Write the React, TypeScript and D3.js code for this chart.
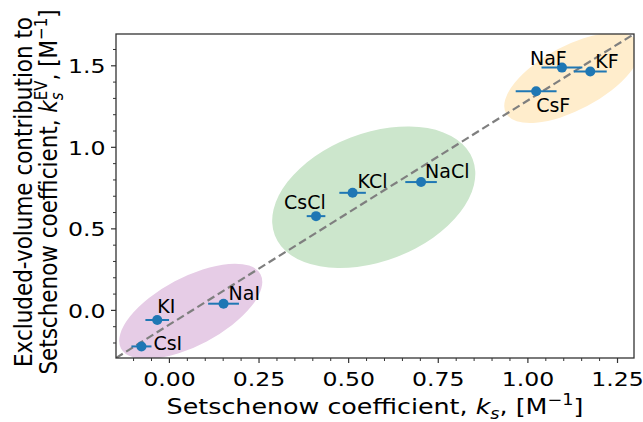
import React from "react";
import * as d3 from "d3";

// ---- data ----
const salts = ["CsI", "KI", "NaI", "CsCl", "KCl", "NaCl", "NaF", "KF", "CsF"];
const ks = [-0.078, -0.034, 0.151, 0.409, 0.511, 0.702, 1.095, 1.174, 1.023];
const ksEV = [-0.221, -0.059, 0.041, 0.578, 0.721, 0.787, 1.489, 1.465, 1.344];
const ksErr = [0.028, 0.033, 0.043, 0.026, 0.037, 0.044, 0.057, 0.046, 0.057];

const groupNames = ["iodides", "chlorides", "fluorides"];
const groupCenterX = [0.0595, 0.57, 1.1235];
const groupCenterY = [-0.006, 0.694, 1.426];

const xTicks = [0, 0.25, 0.5, 0.75, 1.0, 1.25];
const yTicks = [0, 0.5, 1.0, 1.5];
const xDomain = [-0.149, 1.296];
const yDomain = [-0.292, 1.695];

// ---- styles ----
const groupColors = ["#e6cce6", "#cce6cc", "#ffedcc"];
const groupRx = [79, 106, 75];
const groupRy = [34, 64, 32];
const groupAngle = [28, 21, 28];
// label offsets in px relative to point (left x, baseline y)
const labelDx = [12, 0, 5, -32, 5, 4, -32, 5, 0];
const labelDy = [4, -7, -4, -7, -5, -4, -3, -4, 21];

const FONT = "DejaVu Sans, sans-serif";
const BLUE = "#1f77b4";
const SX = 1.18; // horizontal glyph stretch seen in the reference text

export default function App() {
  const L = 116, R = 634, T = 34, B = 358;
  const x = d3.scaleLinear().domain(xDomain).range([L, R]);
  const y = d3.scaleLinear().domain(yDomain).range([B, T]);

  const xMinor = d3.range(-0.15, 1.31, 0.05).map((v) => Math.round(v * 100) / 100)
    .filter((v) => v > xDomain[0] && v < xDomain[1] && !xTicks.some((t) => Math.abs(t - v) < 1e-6));
  const yMinor = d3.range(-0.3, 1.71, 0.1).map((v) => Math.round(v * 10) / 10)
    .filter((v) => v > yDomain[0] && v < yDomain[1] && !yTicks.some((t) => Math.abs(t - v) < 1e-6));

  const fx = d3.format(".2f");
  const fy = d3.format(".1f");

  return (
    <svg width={643} height={422} style={{ position: "absolute", left: 0, top: 0, background: "#fff" }}
      fontFamily={FONT}>
      <defs>
        <clipPath id="plotclip">
          <rect x={L} y={T} width={R - L} height={B - T} />
        </clipPath>
      </defs>
      <g clipPath="url(#plotclip)">
        {groupNames.map((g, i) => {
          const cx = x(groupCenterX[i]);
          const cy = y(groupCenterY[i]);
          return (
            <ellipse key={g} cx={cx} cy={cy} rx={groupRx[i]} ry={groupRy[i]}
              fill={groupColors[i]} transform={`rotate(${-groupAngle[i]} ${cx} ${cy})`} />
          );
        })}
        <line x1={x(xDomain[0])} y1={y(yDomain[0])} x2={x(xDomain[1])} y2={y(yDomain[1])}
          stroke="#7f7f7f" strokeWidth={2.2} strokeDasharray="8,4" />
        {salts.map((s, i) => (
          <g key={s}>
            <line x1={x(ks[i] - ksErr[i])} x2={x(ks[i] + ksErr[i])} y1={y(ksEV[i])} y2={y(ksEV[i])}
              stroke={BLUE} strokeWidth={2} />
            <circle cx={x(ks[i])} cy={y(ksEV[i])} r={5} fill={BLUE} />
          </g>
        ))}
      </g>
      {salts.map((s, i) => (
        <text key={s} x={x(ks[i]) + labelDx[i]} y={y(ksEV[i]) + labelDy[i]} fontSize={19} fill="#000">{s}</text>
      ))}
      {/* frame */}
      <rect x={L} y={T} width={R - L} height={B - T} fill="none" stroke="#333" strokeWidth={1.3} />
      {/* x ticks */}
      {xTicks.map((t) => (
        <g key={t}>
          <line x1={x(t)} x2={x(t)} y1={B} y2={B + 5} stroke="#333" strokeWidth={1.2} />
          <text transform={`translate(${x(t)},386) scale(${SX},1)`} fontSize={20} textAnchor="middle">{fx(t)}</text>
        </g>
      ))}
      {xMinor.map((t) => (
        <line key={t} x1={x(t)} x2={x(t)} y1={B} y2={B + 3} stroke="#333" strokeWidth={1} />
      ))}
      {/* y ticks */}
      {yTicks.map((t) => (
        <g key={t}>
          <line x1={L} x2={L - 5} y1={y(t)} y2={y(t)} stroke="#333" strokeWidth={1.2} />
          <text transform={`translate(105.5,${y(t) + 7.3}) scale(${SX},1)`} fontSize={20} textAnchor="end">{fy(t)}</text>
        </g>
      ))}
      {yMinor.map((t) => (
        <line key={t} x1={L} x2={L - 3} y1={y(t)} y2={y(t)} stroke="#333" strokeWidth={1} />
      ))}
      {/* x label */}
      <text transform={`translate(${(L + R) / 2},414) scale(${SX},1)`} fontSize={21.5} textAnchor="middle">
        Setschenow coefficient, <tspan fontStyle="italic">k</tspan>
        <tspan fontStyle="italic" fontSize={15} dy={5}>s</tspan>
        <tspan dy={-5}>, [M</tspan>
        <tspan fontSize={15} dy={-9}>−1</tspan>
        <tspan dy={9}>]</tspan>
      </text>
      {/* y label */}
      <g transform={`translate(0, ${(T + B) / 2 - 4}) scale(${SX},1) rotate(-90)`}>
        <text x={0} y={27} fontSize={21.5} textAnchor="middle">Excluded-volume contribution to</text>
        <text x={0} y={48.5} fontSize={21.5} textAnchor="middle">
          Setschenow coefficient, <tspan fontStyle="italic">k</tspan>
          <tspan fontStyle="italic" fontSize={15} dy={5}>s</tspan>
          <tspan fontSize={15} dx={-7.8} dy={-14}>EV</tspan>
          <tspan dy={9}>, [M</tspan>
          <tspan fontSize={15} dy={-9}>−1</tspan>
          <tspan dy={9}>]</tspan>
        </text>
      </g>
    </svg>
  );
}
